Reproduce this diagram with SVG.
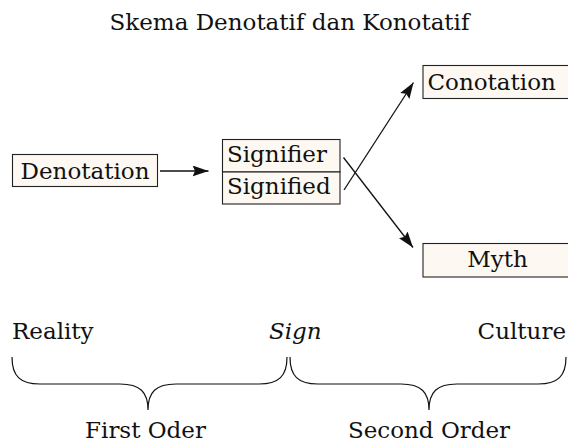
<svg xmlns="http://www.w3.org/2000/svg" width="568" height="443" viewBox="0 0 568 443">
<style>
text{font-family:"DejaVu Serif","Liberation Serif",serif;font-size:23px;fill:#111}
.box{fill:#fdf9f2;stroke:#222;stroke-width:1.1}
.ln{stroke:#111;stroke-width:1.3;fill:none}
.br{stroke:#111;stroke-width:1.2;fill:none}
</style>
<defs>
<marker id="ah" viewBox="0 0 16 11" refX="16" refY="5.5" markerWidth="16" markerHeight="11" markerUnits="userSpaceOnUse" orient="auto">
<path d="M0,0 L16,5.5 L0,11 L2.5,5.5 Z" fill="#111"/>
</marker>
</defs>
<rect width="568" height="443" fill="#fff"/>
<text x="289.5" y="30" text-anchor="middle">Skema Denotatif dan Konotatif</text>
<g id="denotation">
<rect class="box" x="12.5" y="154.5" width="145" height="32"/>
<text x="85" y="179" text-anchor="middle">Denotation</text>
</g>
<g id="sign">
<rect class="box" x="222.5" y="139.5" width="117.5" height="32.5"/>
<rect class="box" x="222.5" y="172" width="117.5" height="32"/>
<text x="227" y="162">Signifier</text>
<text x="227" y="193.5">Signified</text>
</g>
<g id="conotation">
<rect class="box" x="423" y="65.5" width="150" height="33"/>
<text x="427.5" y="89.5">Conotation</text>
</g>
<g id="myth">
<rect class="box" x="423" y="243.5" width="150" height="33.5"/>
<text x="497.5" y="267" text-anchor="middle">Myth</text>
</g>
<g id="connectors">
<line class="ln" x1="160" y1="171" x2="208.5" y2="171" marker-end="url(#ah)"/>
<line class="ln" x1="344" y1="190" x2="413.5" y2="82.5" marker-end="url(#ah)"/>
<line class="ln" x1="343.5" y1="157.5" x2="413" y2="247.5" marker-end="url(#ah)"/>
</g>
<g id="labels">
<text x="12" y="339">Reality</text>
<text x="269" y="339" font-style="italic">Sign</text>
<text x="566" y="339" text-anchor="end">Culture</text>
<path class="br" d="M12,357 C12,376 20,384 40,384 L120,384 C140,384 148,392 148,410 C148,392 156,384 176,384 L259,384 C279,384 287,376 287,357"/>
<path class="br" d="M290,357 C290,376 298,384 318,384 L401,384 C421,384 429,392 429,410 C429,392 437,384 457,384 L538,384 C558,384 566,376 566,357"/>
<text x="145.5" y="438" text-anchor="middle">First Oder</text>
<text x="429" y="438" text-anchor="middle">Second Order</text>
</g>
</svg>
